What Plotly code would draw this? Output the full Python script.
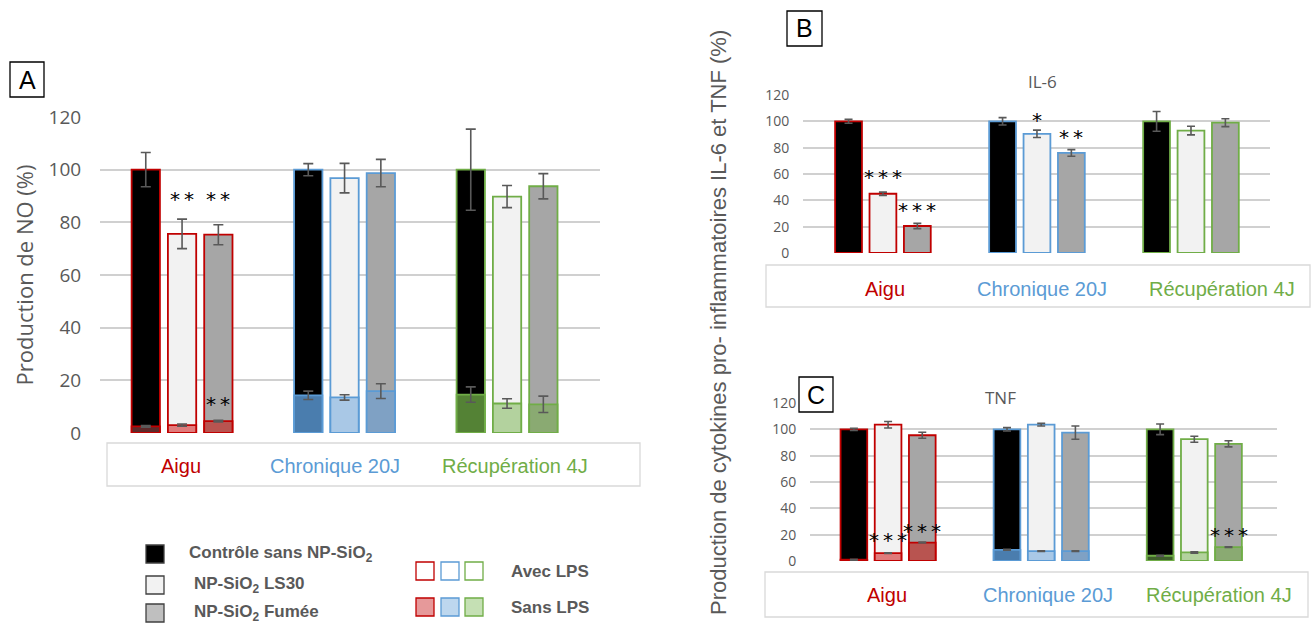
import plotly.graph_objects as go

# ---------------- data ----------------
categories = ["Aigu", "Chronique 20J", "Récupération 4J"]
series_names = ["Contrôle sans NP-SiO<sub>2</sub>", "NP-SiO<sub>2</sub> LS30", "NP-SiO<sub>2</sub> Fumée"]

# Panel A : NO production (%), avec LPS
no_avec_ctrl = [100, 100, 100]
no_avec_ctrl_err = [6.5, 2.3, 15.4]
no_avec_ls30 = [75.6, 96.8, 89.8]
no_avec_ls30_err = [5.6, 5.6, 4.2]
no_avec_fumee = [75.3, 98.7, 93.7]
no_avec_fumee_err = [3.8, 5.2, 4.8]
# Panel A : sans LPS
no_sans_ctrl = [2.5, 14.3, 14.6]
no_sans_ctrl_err = [0.3, 1.6, 2.9]
no_sans_ls30 = [3.0, 13.5, 11.2]
no_sans_ls30_err = [0.4, 1.0, 1.8]
no_sans_fumee = [4.5, 15.9, 10.9]
no_sans_fumee_err = [0.3, 2.8, 3.1]

# Panel B : IL-6 (%), avec LPS
il6_ctrl = [100, 100, 100]
il6_ctrl_err = [1.5, 2.8, 7.5]
il6_ls30 = [45.0, 90.5, 93.0]
il6_ls30_err = [1.2, 2.8, 3.3]
il6_fumee = [20.5, 76.0, 99.0]
il6_fumee_err = [2.0, 2.5, 3.0]

# Panel C : TNF (%), avec LPS
tnf_avec_ctrl = [100, 100, 100]
tnf_avec_ctrl_err = [0.8, 1.3, 4.0]
tnf_avec_ls30 = [103.5, 103.5, 92.5]
tnf_avec_ls30_err = [2.5, 1.0, 2.3]
tnf_avec_fumee = [95.5, 97.5, 89.0]
tnf_avec_fumee_err = [2.3, 5.0, 2.3]
# Panel C : sans LPS
tnf_sans_ctrl = [1.0, 8.5, 4.0]
tnf_sans_ctrl_err = [0.3, 0.3, 0.3]
tnf_sans_ls30 = [6.0, 7.5, 6.5]
tnf_sans_ls30_err = [0.3, 0.3, 0.5]
tnf_sans_fumee = [14.0, 7.5, 10.5]
tnf_sans_fumee_err = [0.3, 0.3, 0.3]

y_ticks = [0, 20, 40, 60, 80, 100, 120]

# significance marks: (panel, category index, series index, y value, text)
stars = [
    ("A", 0, 1, 89, "**"), ("A", 0, 2, 89, "**"), ("A", 0, 2, 11, "**"),
    ("B", 0, 1, 58, "***"), ("B", 0, 2, 32.5, "***"), ("B", 1, 1, 101, "*"), ("B", 1, 2, 88, "**"),
    ("C", 0, 1, 16, "***"), ("C", 0, 2, 23, "***"), ("C", 2, 2, 19.5, "***"),
]

# ---------------- styles ----------------
W, H = 1311, 624
series_fill = ["#000000", "#F2F2F2", "#A6A6A6"]
cat_line = ["#C00000", "#5B9BD5", "#70AD47"]
cat_light = ["#E6999A", "#BDD7EE", "#C5E0B4"]
inner_A = [["#5E2A2A", "#4A7DAE", "#548235"],
           ["#E07B7B", "#A9C8E6", "#B3D29E"],
           ["#B85450", "#7FA1C4", "#8AAA72"]]
inner_C = [["#5E2A2A", "#4A7DAE", "#3F5F2B"],
           ["#E07B7B", "#A9C8E6", "#B3D29E"],
           ["#B85450", "#7FA1C4", "#8AAA72"]]
grey_txt = "#595959"
grid_col = "#D0D0D0"
BARGAP = 0.33
GROUPGAP = 0.22

def px_x(p):
    return p / W

def px_y(p):
    return 1 - p / H

fig = go.Figure()

def err(arr, w):
    return dict(type="data", array=arr, visible=True, color=grey_txt, thickness=1.6, width=w)

def add_panel(xa, ya, avec, avec_err, sans, sans_err, inner, ew):
    for s in range(3):
        fig.add_trace(go.Bar(
            x=categories, y=avec[s], xaxis=xa, yaxis=ya, name=series_names[s],
            offsetgroup=str(s), alignmentgroup=xa,
            marker=dict(color=series_fill[s], line=dict(color=cat_line, width=1.8)),
            error_y=err(avec_err[s], ew), showlegend=False))
    if sans is not None:
        for s in range(3):
            fig.add_trace(go.Bar(
                x=categories, y=sans[s], xaxis=xa, yaxis=ya, name=series_names[s] + " sans LPS",
                offsetgroup=str(s), alignmentgroup=xa,
                marker=dict(color=inner[s], line=dict(color=cat_line, width=1.8)),
                error_y=err(sans_err[s], ew), showlegend=False))

add_panel("x", "y",
          [no_avec_ctrl, no_avec_ls30, no_avec_fumee],
          [no_avec_ctrl_err, no_avec_ls30_err, no_avec_fumee_err],
          [no_sans_ctrl, no_sans_ls30, no_sans_fumee],
          [no_sans_ctrl_err, no_sans_ls30_err, no_sans_fumee_err], inner_A, 5)
add_panel("x2", "y2",
          [il6_ctrl, il6_ls30, il6_fumee],
          [il6_ctrl_err, il6_ls30_err, il6_fumee_err], None, None, None, 4)
add_panel("x3", "y3",
          [tnf_avec_ctrl, tnf_avec_ls30, tnf_avec_fumee],
          [tnf_avec_ctrl_err, tnf_avec_ls30_err, tnf_avec_fumee_err],
          [tnf_sans_ctrl, tnf_sans_ls30, tnf_sans_fumee],
          [tnf_sans_ctrl_err, tnf_sans_ls30_err, tnf_sans_fumee_err], inner_C, 4)

def xaxis(dom, rng, anchor):
    return dict(domain=[px_x(dom[0]), px_x(dom[1])], range=rng, type="category",
                showticklabels=False, showgrid=False, showline=False, zeroline=False,
                anchor=anchor, fixedrange=True, automargin=False)

def yaxis(dom, anchor, fsize, ticklen):
    return dict(domain=[px_y(dom[1]), px_y(dom[0])], range=[0, 120], tickvals=y_ticks,
                showgrid=True, gridcolor=grid_col, gridwidth=1.6, zeroline=False,
                showline=False, ticks="outside", ticklen=ticklen, tickcolor="rgba(0,0,0,0)",
                tickfont=dict(family="Open Sans", size=fsize, color=grey_txt),
                anchor=anchor, fixedrange=True, automargin=False)

ya = yaxis((117, 433), "x", 19, 14)
ya["title"] = dict(text="Production de NO (%)", standoff=8,
                   font=dict(family="Open Sans", size=22, color=grey_txt))
fig.update_layout(
    width=W, height=H, margin=dict(l=0, r=0, t=0, b=0, autoexpand=False),
    paper_bgcolor="white", plot_bgcolor="rgba(0,0,0,0)",
    barmode="group", bargap=BARGAP, bargroupgap=GROUPGAP, showlegend=False,
    xaxis=xaxis((100, 600), [-0.505, 2.572], "y"),
    yaxis=ya,
    xaxis2=xaxis((803, 1270), [-0.519, 2.513], "y2"),
    yaxis2=yaxis((95, 253), "x2", 14, 10),
    xaxis3=xaxis((810, 1277), [-0.51, 2.54], "y3"),
    yaxis3=yaxis((403, 561), "x3", 14, 10),
)

shapes = []
ann = []

# panel letter boxes
for letter, (x0, y0, x1, y1) in {"A": (10, 62, 44, 97), "B": (787, 11, 822, 46), "C": (799, 377, 833, 412)}.items():
    shapes.append(dict(type="rect", xref="paper", yref="paper", x0=px_x(x0), x1=px_x(x1),
                       y0=px_y(y1), y1=px_y(y0), line=dict(color="black", width=1.3),
                       fillcolor="white", layer="above"))
    ann.append(dict(xref="paper", yref="paper", x=px_x((x0 + x1) / 2), y=px_y((y0 + y1) / 2),
                    text=letter, showarrow=False, xanchor="center", yanchor="middle",
                    font=dict(family="Liberation Sans", size=25, color="black")))

# category boxes and labels
cat_boxes = {"A": (107, 443, 640, 486, 466, [181, 335, 515]),
             "B": (766, 265, 1310, 307, 289, [885, 1042, 1222]),
             "C": (765, 572, 1308, 617, 595, [887, 1048, 1219])}
for key, (x0, y0, x1, y1, ty, xs) in cat_boxes.items():
    shapes.append(dict(type="rect", xref="paper", yref="paper", x0=px_x(x0), x1=px_x(x1),
                       y0=px_y(y1), y1=px_y(y0), line=dict(color="#D9D9D9", width=1.3)))
    for i, c in enumerate(categories):
        ann.append(dict(xref="paper", yref="paper", x=px_x(xs[i]), y=px_y(ty), text=c,
                        showarrow=False, xanchor="center", yanchor="middle",
                        font=dict(family="Liberation Sans", size=20, color=cat_line[i])))

# subplot titles
ann.append(dict(xref="paper", yref="paper", x=px_x(1042), y=px_y(82), text="IL-6", showarrow=False,
                xanchor="center", yanchor="middle",
                font=dict(family="Open Sans", size=17, color=grey_txt)))
ann.append(dict(xref="paper", yref="paper", x=px_x(1000), y=px_y(397), text="TNF", showarrow=False,
                xanchor="center", yanchor="middle",
                font=dict(family="Open Sans", size=17, color=grey_txt)))

# shared y title for B & C
ann.append(dict(xref="paper", yref="paper", x=px_x(718), y=px_y(323), textangle=-90,
                text="Production de cytokines pro- inflammatoires IL-6 et TNF (%)", showarrow=False,
                xanchor="center", yanchor="middle",
                font=dict(family="Liberation Sans", size=22, color=grey_txt)))

# significance stars
slot = (1 - BARGAP) / 3
axmap = {"A": ("x", "y"), "B": ("x2", "y2"), "C": ("x3", "y3")}
for panel, ci, si, yv, txt in stars:
    xr, yr = axmap[panel]
    ann.append(dict(xref=xr, yref=yr, x=ci + (si - 1) * slot, y=yv, text="\u2009".join(txt),
                    showarrow=False, xanchor="center", yanchor="middle",
                    font=dict(family="DejaVu Sans", size=20, color="black")))

# legend (drawn)
leg_left = [(554, "Contrôle sans NP-SiO<sub>2</sub>", 187), (585, "NP-SiO<sub>2</sub> LS30", 192),
            (613, "NP-SiO<sub>2</sub> Fumée", 192)]
for i, (cy, txt, tx) in enumerate(leg_left):
    shapes.append(dict(type="rect", xref="paper", yref="paper", x0=px_x(146), x1=px_x(164),
                       y0=px_y(cy + 9), y1=px_y(cy - 9), fillcolor=series_fill[i] if i != 2 else "#BFBFBF",
                       line=dict(color="#404040", width=1.3)))
    ann.append(dict(xref="paper", yref="paper", x=px_x(tx), y=px_y(cy), text="<b>" + txt + "</b>",
                    showarrow=False, xanchor="left", yanchor="middle",
                    font=dict(family="Liberation Sans", size=17, color=grey_txt)))
for j, (cy, txt) in enumerate([(571, "Avec LPS"), (607, "Sans LPS")]):
    for k, x0 in enumerate([416, 441, 465]):
        shapes.append(dict(type="rect", xref="paper", yref="paper", x0=px_x(x0), x1=px_x(x0 + 18),
                           y0=px_y(cy + 9), y1=px_y(cy - 9),
                           fillcolor="white" if j == 0 else cat_light[k],
                           line=dict(color=cat_line[k], width=1.3)))
    ann.append(dict(xref="paper", yref="paper", x=px_x(509), y=px_y(cy), text="<b>" + txt + "</b>",
                    showarrow=False, xanchor="left", yanchor="middle",
                    font=dict(family="Liberation Sans", size=17, color=grey_txt)))

fig.update_layout(shapes=shapes, annotations=ann)
fig.write_html("out.html", config={"displayModeBar": False},
               post_script="document.body.style.margin='0';document.body.style.overflow='hidden';")
